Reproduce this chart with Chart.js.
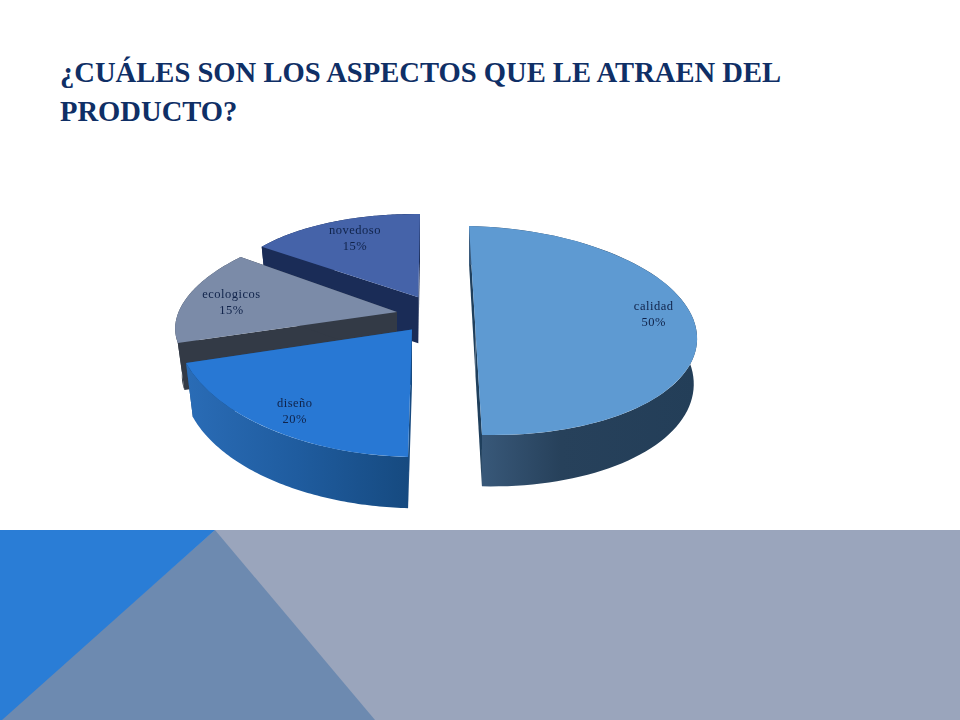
<!DOCTYPE html>
<html lang="es">
<head>
<meta charset="utf-8">
<title>Aspectos del producto</title>
<script src="https://cdn.jsdelivr.net/npm/chart.js@4"></script>
<style>
  html, body { margin: 0; padding: 0; background: #fff; }
  #slide { position: relative; width: 960px; height: 720px; overflow: hidden; }
  #slide div { position: absolute; left: 0; top: 530px; width: 960px; height: 190px; }
  #band { background: #9aa5bc; }
  #mid { background: #6d8ab0; clip-path: polygon(215px 0, 375px 190px, 0 190px); }
  #blue { background: #2a7dd6; clip-path: polygon(0 0, 215px 0, 2px 190px, 0 190px); }
  h1 {
    position: absolute; left: 60px; top: 53px; margin: 0;
    font: bold 28.6px/39px "Liberation Serif", serif;
    color: #0f2f66; white-space: nowrap;
  }
  canvas { position: absolute; left: 0; top: 0; }
</style>
</head>
<body>
<div id="slide">
  <div id="band"></div>
  <div id="mid"></div>
  <div id="blue"></div>
  <h1>¿CUÁLES SON LOS ASPECTOS QUE LE ATRAEN DEL<br>PRODUCTO?</h1>
  <canvas id="chart" width="960" height="720"></canvas>
</div>
<script>
const categories = ['calidad', 'diseño', 'ecologicos', 'novedoso'];
const percentages = [50, 20, 15, 15];
const topColors = ['#5e9ad2', '#2878d4', '#7b8ba8', '#4563a9'];

// how each wedge of the flat pie is laid over the slide: apex, then the affine
// axes of the tilted disc, then wall depth and scale, colours, label spot
const sliceViews = [
  { apex: [475.5, 330.5], axes: [221.5, 5, 6.5, 104.5], depth: 45, shrink: [0.985, 1.06], cut: '#1f3f5c',
    wall: [[0, '#3b5c7e'], [0.4, '#27415b'], [1, '#233e58']], label: [0.81, -0.197] },
  { apex: [412, 329.5], axes: [236.3, 6.2, -4, 127.5], depth: 55, shrink: [0.97, 0.97], cut: '#174a80',
    wall: [[0, '#2a6cb6'], [0.5, '#1f5c9f'], [1, '#164a80']], label: [-0.485, 0.662] },
  { apex: [397, 312], axes: [219, -1.5, -35.3, 95.6], depth: 48, shrink: [0.97, 0.97], cut: '#333a46',
    wall: [[0, '#333a46'], [1, '#333a46']], label: [-0.775, -0.117] },
  { apex: [418.3, 297.3], axes: [194.8, 2, -1.7, 83.3], depth: 46, shrink: [0.97, 0.97], cut: '#1a2c57',
    wall: [[0, '#1a2c57'], [1, '#1a2c57']], label: [-0.331, -0.704] }
];
const drawOrder = [3, 2, 1, 0];

function discPoint(view, u, v) {
  const [a, b, c, d] = view.axes;
  return [view.apex[0] + a * u + c * v, view.apex[1] + b * u + d * v];
}

function lowerPoint(view, p) {
  return [
    view.apex[0] + (p[0] - view.apex[0]) * view.shrink[0],
    view.apex[1] + (p[1] - view.apex[1]) * view.shrink[1] + view.depth
  ];
}

function drawWalls(ctx, arc, view) {
  const upper = [];
  const steps = 80;
  for (let i = 0; i <= steps; i++) {
    const t = arc.startAngle + (arc.endAngle - arc.startAngle) * i / steps;
    upper.push(discPoint(view, Math.cos(t), Math.sin(t)));
  }
  const lower = upper.map(p => lowerPoint(view, p));
  const apexLow = lowerPoint(view, view.apex);

  // the two cut faces
  ctx.fillStyle = view.cut;
  [upper[0], upper[steps]].forEach(p => {
    const low = lowerPoint(view, p);
    ctx.beginPath();
    ctx.moveTo(view.apex[0], view.apex[1]);
    ctx.lineTo(p[0], p[1]);
    ctx.lineTo(low[0], low[1]);
    ctx.lineTo(apexLow[0], apexLow[1]);
    ctx.closePath();
    ctx.fill();
  });

  // the rim
  const xs = upper.map(p => p[0]);
  const grad = ctx.createLinearGradient(Math.min(...xs), 0, Math.max(...xs), 0);
  view.wall.forEach(s => grad.addColorStop(s[0], s[1]));
  ctx.fillStyle = grad;
  ctx.beginPath();
  upper.forEach((p, i) => i ? ctx.lineTo(p[0], p[1]) : ctx.moveTo(p[0], p[1]));
  lower.reverse().forEach(p => ctx.lineTo(p[0], p[1]));
  ctx.closePath();
  ctx.fill();
}

const tiltedPie = {
  id: 'tiltedPie',
  beforeDatasetsDraw(chart) {
    const ctx = chart.ctx;
    const arcs = chart.getDatasetMeta(0).data;
    drawOrder.forEach(i => {
      const arc = arcs[i];
      const view = sliceViews[i];
      const r = arc.outerRadius;
      const [a, b, c, d] = view.axes;
      drawWalls(ctx, arc, view);
      ctx.save();
      ctx.transform(a / r, b / r, c / r, d / r, view.apex[0], view.apex[1]);
      ctx.translate(-arc.x, -arc.y);
      arc.draw(ctx);
      ctx.restore();
    });
    ctx.save();
    ctx.font = '12.5px "Liberation Serif", serif';
    ctx.fillStyle = '#10234a';
    ctx.textAlign = 'center';
    ctx.textBaseline = 'middle';
    categories.forEach((name, i) => {
      const view = sliceViews[i];
      const [x, y] = discPoint(view, view.label[0], view.label[1]);
      ctx.letterSpacing = '0.5px';
      ctx.fillText(name, x, y - 7);
      ctx.fillText(percentages[i] + '%', x, y + 9);
    });
    ctx.restore();
    return false;
  }
};

new Chart(document.getElementById('chart'), {
  type: 'pie',
  data: {
    labels: categories,
    datasets: [{ data: percentages, backgroundColor: topColors, borderWidth: 0 }]
  },
  options: {
    responsive: false,
    animation: false,
    plugins: { legend: { display: false }, tooltip: { enabled: false } }
  },
  plugins: [tiltedPie]
});
</script>
</body>
</html>
